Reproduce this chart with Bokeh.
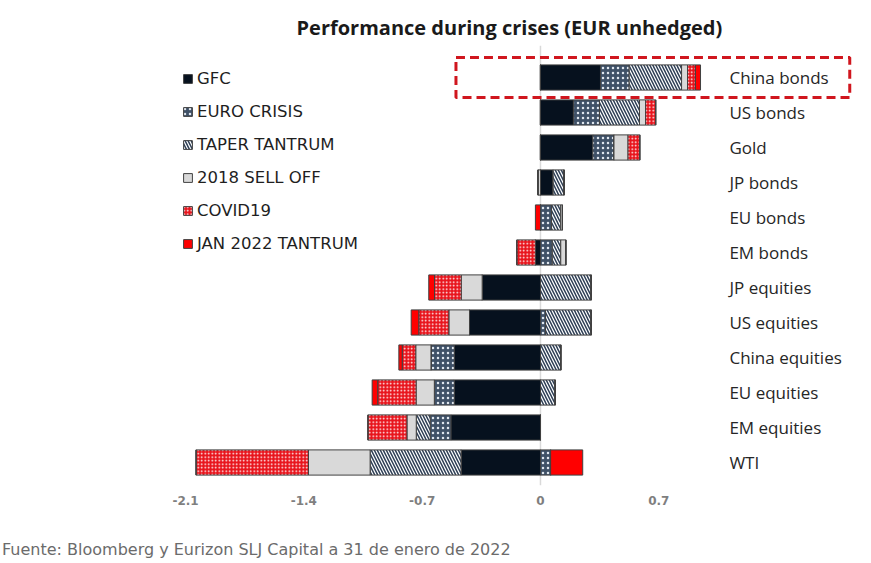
from bokeh.plotting import figure
from bokeh.models import (ColumnDataSource, Range1d, FixedTicker, Legend, LegendItem,
                          Span, BoxAnnotation, Title, Div)
from bokeh.layouts import column
from bokeh.core.properties import value
from bokeh.embed import file_html
from bokeh.resources import INLINE

# ---------------- data ----------------
categories = ["China bonds", "US bonds", "Gold", "JP bonds", "EU bonds", "EM bonds",
              "JP equities", "US equities", "China equities", "EU equities",
              "EM equities", "WTI"]
series_names = ["GFC", "EURO CRISIS", "TAPER TANTRUM", "2018 SELL OFF", "COVID19",
                "JAN 2022 TANTRUM"]
gfc      = [0.355, 0.195, 0.31, 0.075, 0.0, -0.03, -0.345, -0.42, -0.51, -0.51, -0.53, -0.47]
euro     = [0.17, 0.154, 0.125, 0.0, 0.065, 0.07, 0.0, 0.03, -0.138, -0.118, -0.122, 0.06]
taper    = [0.31, 0.237, 0.0, 0.065, 0.055, 0.05, 0.30, 0.27, 0.12, 0.087, -0.083, -0.538]
selloff  = [0.035, 0.036, 0.083, -0.015, 0.01, 0.03, -0.124, -0.122, -0.09, -0.108, -0.055, -0.365]
covid    = [0.047, 0.06, 0.07, 0.0, 0.0, -0.11, -0.158, -0.178, -0.08, -0.227, -0.231, -0.665]
jan2022  = [0.03, 0.0, 0.0, 0.0, -0.03, 0.0, -0.034, -0.045, -0.02, -0.033, 0.0, 0.19]
tick_vals = [-2.1, -1.4, -0.7, 0, 0.7]
tick_labels = ["-2.1", "-1.4", "-0.7", "0", "0.7"]
title_text = "Performance during crises (EUR unhedged)"
footer_text = "Fuente: Bloomberg y Eurizon SLJ Capital a 31 de enero de 2022"
highlight = "China bonds"

series = [gfc, euro, taper, selloff, covid, jan2022]
keys = ["gfc", "euro", "taper", "selloff", "covid", "jan"]

n = len(categories)
ypos = [n - 1 - i for i in range(n)]
data = {"y": ypos, "cat": categories}
for k, s in zip(keys, series):
    data[k + "_pos"] = [v if v > 0 else 0.0 for v in s]
    data[k + "_neg"] = [v if v < 0 else 0.0 for v in s]
src = ColumnDataSource(data)

# ---------------- styles ----------------
fills = ["#06111e", "#3f5167", "#ffffff", "#d9d9d9", "#e8141c", "#ff0000"]
hatches = [" ", ".", "\\", " ", ".", " "]
hatch_colors = ["#ffffff", "#dfe6ee", "#2d3e55", "#ffffff", "#ffffff", "#ffffff"]
hatch_scales = [6, 5, 6, 6, 3.5, 6]
hatch_weights = [1, 1.2, 1.5, 1, 1.4, 1]

X0, X1 = -3.195, 1.864
Y0, Y1 = -0.657, 11.914
p = figure(width=855, height=528, output_backend="svg", toolbar_location=None,
           x_range=Range1d(X0, X1), y_range=Range1d(Y0, Y1),
           min_border_left=0, min_border_right=0, min_border_top=45,
           min_border_bottom=43, y_axis_location=None)
p.outline_line_color = None
p.xgrid.visible = False
p.ygrid.visible = False

p.add_layout(Span(location=0, dimension="height", line_color="#d9d9d9",
                  line_width=1.5, level="underlay"))

common = dict(y="y", height=0.72, source=src, line_color="#404040", line_width=1,
              fill_color=fills, hatch_pattern=hatches, hatch_color=hatch_colors,
              hatch_scale=hatch_scales, hatch_weight=hatch_weights)
pos_r = p.hbar_stack([k + "_pos" for k in keys], **common)
neg_r = p.hbar_stack([k + "_neg" for k in keys], **common)

p.text(x=1.118, y="y", text="cat", source=src, text_baseline="middle",
       text_align="left", text_font=value("Open Sans"), text_font_size="17px",
       text_color="#262626")

# highlight box around China bonds row
hy = ypos[categories.index(highlight)]
p.add_layout(BoxAnnotation(left=-0.50, right=1.83, top=hy + 0.571, bottom=hy - 0.571,
                           fill_alpha=0, line_color="#d0161e", line_alpha=1.0,
                           line_width=3, line_dash="9 5"))

legend = Legend(items=[LegendItem(label=nm, renderers=[r]) for nm, r in zip(series_names, pos_r)],
                location=(182, 232), orientation="vertical", padding=0, margin=0,
                glyph_width=11, glyph_height=11, label_height=20, spacing=13,
                label_standoff=4, label_text_font="DejaVu Sans",
                label_text_font_size="16.5px", label_text_color="#1f1f1f",
                border_line_alpha=0, background_fill_alpha=0)
p.add_layout(legend)

ax = p.xaxis[0]
ax.ticker = FixedTicker(ticks=tick_vals)
ax.major_label_overrides = {v: l for v, l in zip(tick_vals, tick_labels)}
ax.axis_line_color = None
ax.major_tick_line_color = None
ax.minor_tick_line_color = None
ax.major_label_standoff = 4
ax.major_label_text_font = "DejaVu Sans"
ax.major_label_text_font_size = "12px"
ax.major_label_text_font_style = "bold"
ax.major_label_text_color = "#7f7f7f"

p.title = Title(text=title_text, align="left", offset=296, standoff=10,
                text_font="Open Sans", text_font_size="20px", text_font_style="bold",
                text_color="#1a1a1a")

footer = Div(text=footer_text, width=855, height=35,
             styles={"font-family": "DejaVu Sans", "font-size": "16px",
                     "color": "#6b6b6b", "line-height": "20px",
                     "padding-top": "12px", "padding-left": "2px", "margin": "0"})

open("out.html", "w").write(file_html(column(p, footer, spacing=0), INLINE))
